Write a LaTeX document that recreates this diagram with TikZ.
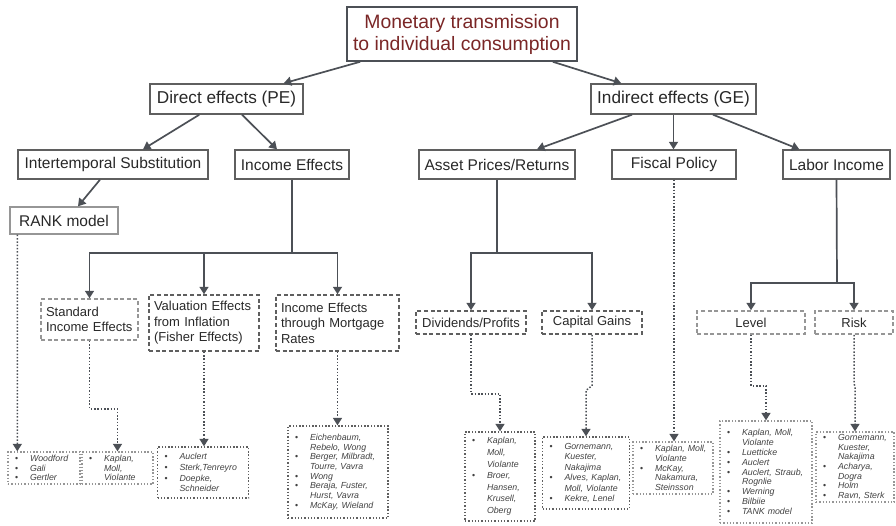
\documentclass[tikz,border=0pt]{standalone}
\usepackage{fontspec}
\setmainfont{Liberation Sans}
\usetikzlibrary{arrows.meta}
\definecolor{titlered}{RGB}{122,38,38}
\definecolor{lineg}{RGB}{76,80,86}
\definecolor{boxg}{RGB}{95,95,95}
\definecolor{lightg}{RGB}{150,150,150}
\definecolor{txt}{RGB}{40,40,40}
\definecolor{listtxt}{RGB}{65,65,65}
\newcommand\bi[1]{\makebox[15pt][l]{\textbullet}\textit{#1}}
\newcommand\ci[1]{\hspace*{15pt}\textit{#1}}
\begin{document}
\begin{tikzpicture}[x=1pt,y=-1pt,
  every node/.style={text=txt, inner sep=0pt},
  tip/.style={-{Triangle[length=7.5pt,width=9pt]}},
  arr/.style={draw=lineg, line width=1.7pt, tip},
  seg/.style={draw=lineg, line width=1.7pt},
  dotconn/.style={draw=lineg, line width=1.5pt, dash pattern=on 1.5pt off 1.8pt, tip},
  topbox/.style={draw=lineg, line width=1.5pt, align=center, text=titlered,
    font=\fontsize{19.4}{22}\selectfont},
  lvone/.style={draw=boxg, line width=1.4pt, minimum height=30pt,
    font=\fontsize{17.2}{20}\selectfont},
  lvtwo/.style={draw=boxg, line width=1.4pt, minimum height=29pt,
    font=\fontsize{15.5}{18}\selectfont},
  dbox/.style={draw=boxg, line width=1.5pt, dash pattern=on 4pt off 2.6pt,
    font=\fontsize{13}{15.5}\selectfont},
  lst/.style={draw=boxg, line width=1.35pt, dash pattern=on 1.35pt off 1.9pt,
    inner xsep=7pt, align=left, text=listtxt, font=\fontsize{8.8}{9.6}\selectfont}
]
\useasboundingbox (0,0) rectangle (896,525);

% top
\node[topbox, minimum width=230pt, minimum height=54pt] (T) at (462,34)
  {Monetary transmission\\to individual consumption};
\node[lvone, minimum width=153pt] (D) at (226.5,99) {Direct effects (PE)};
\node[lvone, minimum width=165pt] (I) at (673.5,99) {Indirect effects (GE)};

% level 2
\node[lvtwo, minimum width=190pt] (IS) at (113,164.5) {Intertemporal Substitution};
\node[lvtwo, minimum width=114pt] (IE) at (292,164.5) {Income Effects};
\node[lvtwo, minimum width=156pt] (AP) at (497,164.5) {Asset Prices/Returns};
\node[lvtwo, minimum width=124pt] (FP) at (674,164.5) {Fiscal Policy};
\node[lvtwo, minimum width=107pt] (LI) at (836.5,164.5) {Labor Income};
\node[lvtwo, draw=lightg, minimum width=108pt, minimum height=27pt] (RK) at (64,220.5) {RANK model};

% level 3
\node[dbox, draw=lightg, minimum width=97pt, minimum height=41pt, text width=87pt,
  inner xsep=5pt, align=left] (SI) at (89.5,319.5) {Standard\\Income Effects};
\node[dbox, minimum width=110pt, minimum height=56pt, text width=100pt,
  inner xsep=5pt, align=left] (VE) at (204,323) {Valuation Effects\\from Inflation\\(Fisher Effects)};
\node[dbox, minimum width=123pt, minimum height=56pt, text width=113pt,
  inner xsep=5pt, align=left] (ME) at (337.5,323) {Income Effects\\through Mortgage\\Rates};
\node[dbox, minimum width=110pt, minimum height=23pt] (DP) at (471,322.5) {Dividends/Profits};
\node[dbox, minimum width=100pt, minimum height=23pt] (CG) at (592,322.5) {Capital Gains};
\node[dbox, draw=lightg, minimum width=108pt, minimum height=23pt] (LV) at (751,322.5) {Level};
\node[dbox, draw=lightg, minimum width=78pt, minimum height=23pt] (RS) at (854,322.5) {Risk};

% bottom lists
\node[lst, draw=lightg, minimum width=72pt, minimum height=32pt, text width=58pt] (B1) at (44,468)
  {\bi{Woodford}\\\bi{Gali}\\\bi{Gertler}};
\node[lst, draw=lightg, minimum width=71pt, minimum height=32pt, text width=57pt] (B2) at (117.5,468)
  {\bi{Kaplan,}\\\ci{Moll,}\\\ci{Violante}};
\node[lst, minimum width=91pt, minimum height=51pt, text width=77pt,
  font=\fontsize{8.8}{10.8}\selectfont] (B3) at (203,472.5)
  {\bi{Auclert}\\\bi{Sterk,Tenreyro}\\\bi{Doepke,}\\\ci{Schneider}};
\node[lst, minimum width=100pt, minimum height=92pt, text width=86pt,
  font=\fontsize{8.8}{9.7}\selectfont] (B4) at (338,472)
  {\bi{Eichenbaum,}\\\ci{Rebelo, Wong}\\\bi{Berger, Milbradt,}\\\ci{Tourre, Vavra}\\\bi{Wong}\\\bi{Beraja, Fuster,}\\\ci{Hurst, Vavra}\\\bi{McKay, Wieland}};
\node[lst, minimum width=70pt, minimum height=89pt, text width=56pt,
  font=\fontsize{8.8}{11.6}\selectfont] (B5) at (500,476.5)
  {\bi{Kaplan,}\\\ci{Moll,}\\\ci{Violante}\\\bi{Broer,}\\\ci{Hansen,}\\\ci{Krusell,}\\\ci{Oberg}};
\node[lst, minimum width=87pt, minimum height=72pt, text width=73pt,
  font=\fontsize{8.8}{10.5}\selectfont] (B6) at (586,473)
  {\bi{Gornemann,}\\\ci{Kuester,}\\\ci{Nakajima}\\\bi{Alves, Kaplan,}\\\ci{Moll, Violante}\\\bi{Kekre, Lenel}};
\node[lst, draw=lightg, minimum width=80pt, minimum height=52pt, text width=66pt,
  font=\fontsize{8.8}{9.6}\selectfont] (B7) at (673,468)
  {\bi{Kaplan,~Moll,}\\\ci{Violante}\\\bi{McKay,}\\\ci{Nakamura,}\\\ci{Steinsson}};
\node[lst, draw=lightg, minimum width=92pt, minimum height=102pt, text width=78pt,
  font=\fontsize{8.8}{9.8}\selectfont] (B8) at (766,472)
  {\bi{Kaplan, Moll,}\\\ci{Violante}\\\bi{Luetticke}\\\bi{Auclert}\\\bi{Auclert, Straub,}\\\ci{Rognlie}\\\bi{Werning}\\\bi{Bilbiie}\\\bi{TANK model}};
\node[lst, draw=lightg, minimum width=78pt, minimum height=70pt, text width=64pt,
  font=\fontsize{8.8}{9.6}\selectfont] (B9) at (855,467)
  {\bi{Gornemann,}\\\ci{Kuester,}\\\ci{Nakajima}\\\bi{Acharya,}\\\ci{Dogra}\\\bi{Holm}\\\bi{Ravn, Sterk}};

% solid arrows
\draw[arr] ([xshift=14pt]T.south west) -- ([xshift=-20pt]D.north east);
\draw[arr] ([xshift=-25pt]T.south east) -- ([xshift=31pt]I.north west);
\draw[arr] ([xshift=50pt]D.south west) -- ([xshift=30pt]IS.north);
\draw[arr] ([xshift=15.5pt]D.south) -- ([xshift=-15pt]IE.north);
\draw[arr] ([xshift=-41.5pt]I.south) -- ([xshift=40pt]AP.north);
\draw[arr] (I.south) -- (I.south |- FP.north);
\draw[arr] ([xshift=39.5pt]I.south) -- ([xshift=17pt]LI.north west);
\draw[arr] ([xshift=-13pt]IS.south) -- ([xshift=14pt]RK.north);

% tree branches
\coordinate (ieJ) at (292,253);
\draw[seg] (IE.south) -- (ieJ);
\draw[arr] (ieJ) -| (SI.north);
\draw[arr] (ieJ) -| (VE.north);
\draw[arr] (ieJ) -| (ME.north);
\coordinate (apJ) at (497,253);
\draw[seg] (AP.south) -- (apJ);
\draw[arr] (apJ) -| (DP.north);
\draw[arr] (apJ) -| (CG.north);
\coordinate (liJ) at (837,283);
\draw[seg] (LI.south) -- (liJ);
\draw[arr] (liJ) -| (LV.north);
\draw[arr] (liJ) -| (RS.north);

% dotted connectors
\draw[dotconn] ([xshift=8pt]RK.south west) -- ([xshift=10pt]B1.north west);
\draw[dotconn] (SI.south) -- ++(0,68) -| (B2.north);
\draw[dotconn] (VE.south) -- (VE.south |- B3.north);
\draw[dotconn] (ME.south) -- (ME.south |- B4.north);
\draw[dotconn] (DP.south) -- ++(0,59) -| (B5.north);
\draw[dotconn] (CG.south) -- ++(0,51) -- ([yshift=46pt]B6.north) -- (B6.north);
\draw[dotconn] (FP.south) -- (FP.south |- B7.north);
\draw[dotconn] (LV.south) -- ++(0,51) -| (B8.north);
\draw[dotconn] (RS.south) -- ++(0,49) -- ([yshift=45pt]B9.north) -- (B9.north);
\end{tikzpicture}
\end{document}
